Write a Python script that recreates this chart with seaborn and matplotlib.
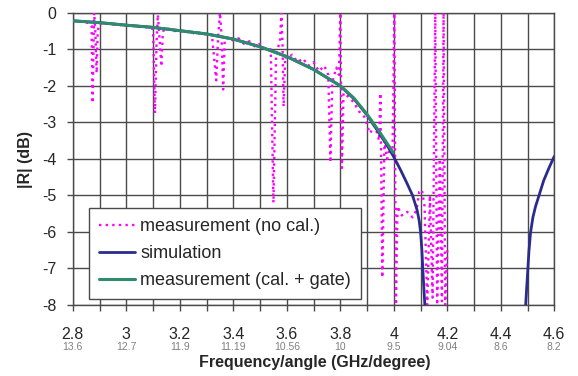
import numpy as np
import pandas as pd
import seaborn as sns
import matplotlib.pyplot as plt
from matplotlib.ticker import MultipleLocator
from matplotlib.transforms import blended_transform_factory

# Frecuencias (GHz) y ángulos correspondientes para las etiquetas
freq_ticks = [2.8, 3.0, 3.2, 3.4, 3.6, 3.8, 4.0, 4.2, 4.4, 4.6]
freq_labels = ["2.8", "3", "3.2", "3.4", "3.6", "3.8", "4", "4.2", "4.4", "4.6"]
angle_labels = ["13.6", "12.7", "11.9", "11.19", "10.56", "10", "9.5", "9.04", "8.6", "8.2"]

# Simulación (dos ramas, la parte intermedia queda por debajo de -8 dB)
sim_f1 = [2.8, 2.9, 3.0, 3.1, 3.2, 3.3, 3.4, 3.5, 3.6, 3.7, 3.8, 3.85, 3.9, 3.95,
          3.975, 4.0, 4.025, 4.05, 4.07, 4.087, 4.095, 4.1, 4.105, 4.108, 4.112,
          4.116, 4.12]
sim_db1 = [-0.22, -0.27, -0.34, -0.40, -0.49, -0.58, -0.72, -0.93, -1.2, -1.55, -2.0,
           -2.35, -2.8, -3.35, -3.63, -3.95, -4.3, -4.68, -5.0, -5.4, -5.7, -6.0,
           -6.5, -6.95, -7.5, -8.0, -8.6]
sim_f2 = [4.49, 4.493, 4.497, 4.501, 4.505, 4.511, 4.52, 4.53, 4.543, 4.56, 4.58, 4.6]
sim_db2 = [-8.6, -8.0, -7.5, -7.03, -6.55, -6.03, -5.6, -5.3, -5.0, -4.6, -4.25, -3.93]

# Medición calibrada + gate
cal_f = [2.8, 2.9, 3.0, 3.1, 3.2, 3.3, 3.4, 3.5, 3.6, 3.7, 3.8, 3.85, 3.9, 3.95, 3.998]
cal_db = [-0.22, -0.27, -0.34, -0.40, -0.49, -0.58, -0.72, -0.93, -1.2, -1.55, -2.0,
          -2.33, -2.78, -3.3, -3.83]

# Medición sin calibrar
raw_f = [2.80, 2.82, 2.84, 2.86, 2.870, 2.874, 2.878, 2.880, 2.884, 2.889, 2.893,
         2.90, 2.92, 2.94, 2.96, 2.98, 3.00, 3.02, 3.04, 3.06, 3.08, 3.10, 3.107,
         3.113, 3.118, 3.124, 3.131, 3.136, 3.14, 3.16, 3.18, 3.20, 3.22, 3.24,
         3.26, 3.28, 3.30, 3.32, 3.336, 3.343, 3.350, 3.356, 3.362, 3.368, 3.38,
         3.40, 3.42, 3.44, 3.46, 3.48, 3.50, 3.52, 3.54, 3.550, 3.560, 3.574,
         3.580, 3.584, 3.588, 3.594, 3.60, 3.62, 3.64, 3.66, 3.68, 3.70, 3.72,
         3.74, 3.755, 3.763, 3.770, 3.785, 3.795, 3.800, 3.806, 3.812, 3.83, 3.85,
         3.87, 3.89, 3.91, 3.93, 3.945, 3.950, 3.957, 3.965, 3.975, 3.985, 3.995,
         4.002, 4.008, 4.014, 4.03, 4.05, 4.07, 4.085, 4.095, 4.105, 4.115, 4.125,
         4.135, 4.145, 4.155, 4.162, 4.172, 4.180, 4.186, 4.192, 4.20]
raw_db = [-0.22, -0.24, -0.25, -0.28, -0.35, -2.47, -0.6, 0.0, -0.5, -1.65, -0.5,
          -0.30, -0.28, -0.33, -0.31, -0.34, -0.36, -0.35, -0.38, -0.37, -0.40, -0.45,
          -2.75, -0.8, -0.05, -0.7, -1.47, -0.6, -0.45, -0.44, -0.50, -0.48, -0.55,
          -0.50, -0.60, -0.52, -0.62, -0.60, -1.85, -0.7, 0.0, -0.6, -2.1, -0.7,
          -0.68, -0.76, -0.70, -0.85, -0.78, -0.92, -0.85, -1.0, -1.0, -5.2, -1.1,
          -0.8, 0.0, -0.9, -2.57, -1.2, -1.25, -1.15, -1.35, -1.25, -1.45, -1.35,
          -1.6, -1.45, -1.7, -4.1, -1.9, -1.5, -1.7, 0.0, -4.25, -2.2, -2.3, -2.45,
          -2.7, -2.85, -3.3, -3.1, -3.5, -2.2, -7.25, -3.5, -4.0, -3.7, -3.9,
          0.0, -8.0, -5.3, -5.55, -5.45, -5.6, -5.4, -4.9, -4.85, -5.3, -8.0,
          -5.0, -7.8, 0.0, -8.0, -4.0, -7.9, 0.0, -8.0, -6.5]

sns.set_style("white")
plt.rcParams['font.family'] = ['Liberation Sans', 'DejaVu Sans']
plt.rcParams['axes.unicode_minus'] = False

fig, ax = plt.subplots(figsize=(5.78, 3.76), dpi=100)
fig.subplots_adjust(left=0.126, right=0.959, top=0.966, bottom=0.189)

sns.lineplot(x=raw_f, y=raw_db, ax=ax, color="#ff00ff", linewidth=1.7,
             linestyle=(0, (1.0, 1.8)), label="measurement (no cal.)", zorder=3)
sns.lineplot(x=sim_f1, y=sim_db1, ax=ax, color="#2b2b8f", linewidth=2.0,
             label="simulation", zorder=4)
sns.lineplot(x=sim_f2, y=sim_db2, ax=ax, color="#2b2b8f", linewidth=2.0, zorder=4)
sns.lineplot(x=cal_f, y=cal_db, ax=ax, color="#2e8b6e", linewidth=2.2,
             label="measurement (cal. + gate)", zorder=5)

ax.set_xlim(2.8, 4.6)
ax.set_ylim(-8, 0)
ax.set_xticks(freq_ticks)
ax.set_xticklabels(freq_labels)
ax.xaxis.set_minor_locator(MultipleLocator(0.1))
ax.yaxis.set_major_locator(MultipleLocator(1))
ax.grid(True, which="both", color="#4a4a4a", linewidth=1.0)
ax.set_axisbelow(True)
for s in ax.spines.values():
    s.set_color("#4a4a4a")
    s.set_linewidth(1.0)

ax.tick_params(axis="x", which="both", direction="out", length=4, width=1,
               color="#4a4a4a", bottom=True)
ax.tick_params(axis="x", which="major", labelsize=11.5, pad=12)
ax.tick_params(axis="y", direction="out", length=4, width=1, color="#4a4a4a",
               left=True, labelsize=11.5, pad=8)

trans = blended_transform_factory(ax.transData, ax.transAxes)
for f, a in zip(freq_ticks, angle_labels):
    ax.text(f, -0.143, a, transform=trans, ha="center", va="center",
            fontsize=7.5, color="#808080")

ax.set_xlabel("Frequency/angle (GHz/degree)", fontsize=11.5, fontweight="bold")
ax.xaxis.set_label_coords(0.503, -0.172)
ax.set_ylabel("|R| (dB)", fontsize=11.5, fontweight="bold")
ax.yaxis.set_label_coords(-0.083, 0.497)

leg = ax.legend(loc="lower left", bbox_to_anchor=(0.033, 0.02), borderaxespad=0,
                fontsize=13, handlelength=2.0, handletextpad=0.3, labelspacing=0.55,
                borderpad=0.55, fancybox=False, framealpha=1, edgecolor="#4a4a4a")
leg.get_frame().set_linewidth(1.0)

fig.savefig("out.png", dpi=100)
